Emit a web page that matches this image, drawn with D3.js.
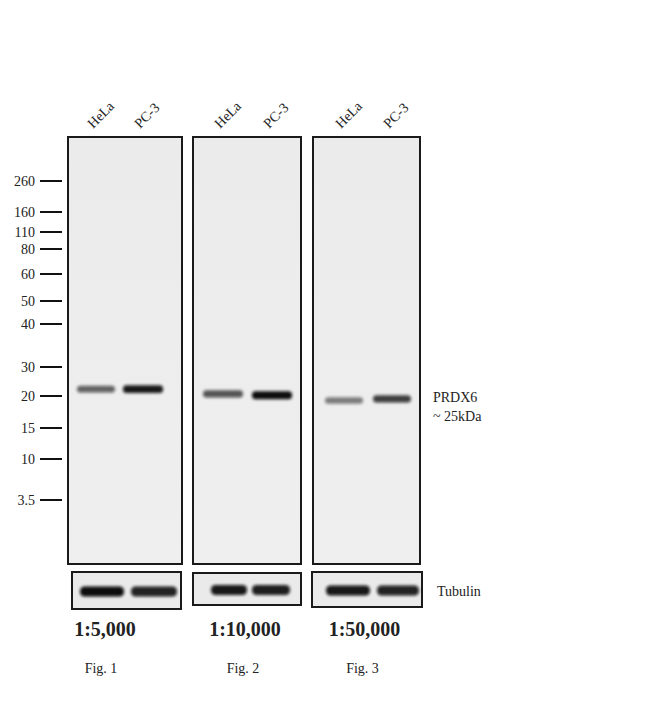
<!DOCTYPE html>
<html>
<head>
<meta charset="utf-8">
<script src="https://cdn.jsdelivr.net/npm/d3@7"></script>
<style>
  body { margin: 0; background: #fff; }
  text { font-family: "Liberation Serif", "DejaVu Serif", serif; fill: #222; }
</style>
</head>
<body>
<svg id="blot" width="650" height="718"></svg>
<script>
// 数据
const lanes = ["HeLa", "PC-3"];
const markers = [260, 160, 110, 80, 60, 50, 40, 30, 20, 15, 10, 3.5];
const markerLabels = ["260", "160", "110", "80", "60", "50", "40", "30", "20", "15", "10", "3.5"];
const dilutions = ["1:5,000", "1:10,000", "1:50,000"];
const figLabels = ["Fig. 1", "Fig. 2", "Fig. 3"];
// PRDX6 条带表观分子量 (kDa) 和强度 (0-1)
const prdx6Kda = [[22, 22], [20.6, 20.2], [19.2, 19.5]];
const prdx6Intensity = [[0.62, 0.95], [0.68, 1.0], [0.5, 0.78]];
const tubulinIntensity = [[1.0, 0.9], [0.95, 0.92], [0.95, 0.9]];

// 布局
const gelTop = 137, gelBottom = 564;
const panels = [
    { x0: 68, x1: 182, lane: [96, 143], bw: [38, 40], tx0: 72, tx1: 181, ty0: 572, ty1: 609, tlane: [102, 154], tbw: [44, 46] },
    { x0: 193, x1: 301, lane: [223, 272], bw: [40, 40], tx0: 193, tx1: 301, ty0: 573, ty1: 605, tlane: [229, 271], tbw: [36, 38] },
    { x0: 313, x1: 420, lane: [344, 392], bw: [38, 38], tx0: 312, tx1: 422, ty0: 572, ty1: 607, tlane: [348, 398], tbw: [44, 42] }
];

const svg = d3.select("#blot");

// 模糊滤镜
const defs = svg.append("defs");
defs.append("filter").attr("id", "blur").attr("x", "-20%").attr("y", "-100%")
    .attr("width", "140%").attr("height", "300%")
    .append("feGaussianBlur").attr("stdDeviation", "1.8 1.4");
const grad = defs.append("linearGradient").attr("id", "gelbg").attr("x1", 0).attr("x2", 0).attr("y1", 0).attr("y2", 1);
grad.append("stop").attr("offset", "0%").attr("stop-color", "#ebebeb");
grad.append("stop").attr("offset", "100%").attr("stop-color", "#efefef");

// 分子量标尺 (迁移位置校准)
const y = d3.scaleLog()
    .domain(markers)
    .range([181, 212, 232, 249, 274, 301, 324, 367, 396, 428, 459, 500]);

const ladder = svg.append("g");
ladder.selectAll("line")
    .data(markers)
    .join("line")
    .attr("x1", 40).attr("x2", 62)
    .attr("y1", d => y(d)).attr("y2", d => y(d))
    .attr("stroke", "#111").attr("stroke-width", 2);
ladder.selectAll("text")
    .data(markers)
    .join("text")
    .attr("x", 35)
    .attr("y", d => y(d))
    .attr("dy", "0.35em")
    .attr("text-anchor", "end")
    .attr("font-size", 14)
    .text((d, i) => markerLabels[i]);

panels.forEach((p, i) => {
    const g = svg.append("g");
    const x = d3.scaleOrdinal().domain(lanes).range(p.lane);
    const w = d3.scaleOrdinal().domain(lanes).range(p.bw);

    // 凝胶面板
    g.append("rect")
        .attr("x", p.x0).attr("y", gelTop)
        .attr("width", p.x1 - p.x0).attr("height", gelBottom - gelTop)
        .attr("fill", "url(#gelbg)")
        .attr("stroke", "#1a1a1a").attr("stroke-width", 2);

    // 泳道标签
    g.selectAll("text.lane")
        .data(lanes)
        .join("text")
        .attr("class", "lane")
        .attr("font-size", 14)
        .attr("transform", d => `translate(${x(d) - 3},${gelTop - 8}) rotate(-45)`)
        .text(d => d);

    // PRDX6 条带
    g.selectAll("rect.band")
        .data(lanes.map((l, j) => ({ lane: l, kda: prdx6Kda[i][j], v: prdx6Intensity[i][j] })))
        .join("rect")
        .attr("class", "band")
        .attr("x", d => x(d.lane) - w(d.lane) / 2)
        .attr("y", d => y(d.kda) - (5 + 3 * d.v) / 2)
        .attr("width", d => w(d.lane))
        .attr("height", d => 5 + 3 * d.v)
        .attr("rx", 3.5)
        .attr("fill", "#0d0d0d")
        .attr("opacity", d => d.v)
        .attr("filter", "url(#blur)");

    // Tubulin 面板
    const tx = d3.scaleOrdinal().domain(lanes).range(p.tlane);
    const tw = d3.scaleOrdinal().domain(lanes).range(p.tbw);
    const tMid = (p.ty0 + p.ty1) / 2 + 1;
    g.append("rect")
        .attr("x", p.tx0).attr("y", p.ty0)
        .attr("width", p.tx1 - p.tx0).attr("height", p.ty1 - p.ty0)
        .attr("fill", "#eaeaea")
        .attr("stroke", "#1a1a1a").attr("stroke-width", 2);
    g.selectAll("rect.tband")
        .data(lanes.map((l, j) => ({ lane: l, v: tubulinIntensity[i][j] })))
        .join("rect")
        .attr("class", "tband")
        .attr("x", d => tx(d.lane) - tw(d.lane) / 2)
        .attr("y", tMid - 5)
        .attr("width", d => tw(d.lane))
        .attr("height", 10)
        .attr("rx", 4.5)
        .attr("fill", "#0a0a0a")
        .attr("opacity", d => d.v)
        .attr("filter", "url(#blur)");

    // 稀释度和图号
    g.append("text")
        .attr("x", (p.x0 + p.x1) / 2 + (i === 0 ? -20 : -2))
        .attr("y", 636)
        .attr("text-anchor", "middle")
        .attr("font-size", 20)
        .attr("font-weight", "bold")
        .text(dilutions[i]);
    g.append("text")
        .attr("x", (p.x0 + p.x1) / 2 + (i === 0 ? -24 : -4))
        .attr("y", 673)
        .attr("text-anchor", "middle")
        .attr("font-size", 14)
        .text(figLabels[i]);
});

// 右侧标注
svg.append("text").attr("x", 433).attr("y", 402).attr("font-size", 14).text("PRDX6");
svg.append("text").attr("x", 433).attr("y", 421).attr("font-size", 14).text("~ 25kDa");
svg.append("text").attr("x", 437).attr("y", 596).attr("font-size", 14).text("Tubulin");
</script>
</body>
</html>
